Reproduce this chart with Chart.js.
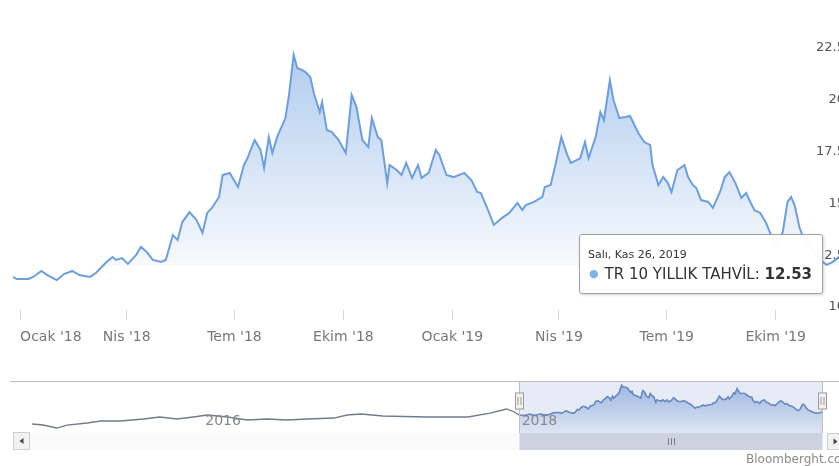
<!DOCTYPE html>
<html>
<head>
<meta charset="utf-8">
<script src="https://cdn.jsdelivr.net/npm/chart.js@4.4.1/dist/chart.umd.min.js"></script>
<style>
  html, body { margin: 0; padding: 0; background: #fff; overflow: hidden; }
  #wrap { position: relative; width: 839px; height: 466px; overflow: hidden; font-family: "DejaVu Sans", sans-serif; }
  #mainBox { position: absolute; left: 0; top: 0; width: 870px; height: 360px; }
  #navBox { position: absolute; left: 0; top: 370px; width: 870px; height: 96px; }
  #tip { position: absolute; display: none; background: rgba(255,255,255,0.96); border: 1px solid #a3a3a3; border-radius: 3px;
         box-shadow: 1px 1px 3px rgba(0,0,0,0.18); padding: 13px 10px 9px 8px; color: #333; white-space: nowrap; }
  #tip .t { font-size: 11px; line-height: 14px; }
  #tip .b { font-size: 15px; line-height: 20px; margin-top: 2px; }
  #tip .dot { color: #7cb5ec; font-size: 11px; margin: 0 6px 0 1px; vertical-align: 2px; }
  #credit { position: absolute; left: 746px; top: 452px; font-size: 12px; color: #8a8a8a; white-space: nowrap; }
</style>
</head>
<body>
<div id="wrap">
  <div id="mainBox"><canvas id="main"></canvas></div>
  <div id="navBox"><canvas id="nav"></canvas></div>
  <div id="tip"></div>
  <div id="credit">Bloomberght.com</div>
</div>
<script>
const SERIES = "TR 10 YILLIK TAHVİL";

// daily closes (main range)
const dates = [
  "2017-12-26","2017-12-29","2018-01-08","2018-01-12","2018-01-19","2018-01-24","2018-02-01","2018-02-07",
  "2018-02-14","2018-02-20","2018-03-01","2018-03-06","2018-03-15","2018-03-20","2018-03-23","2018-03-28",
  "2018-04-02","2018-04-09","2018-04-13","2018-04-18","2018-04-23","2018-04-30","2018-05-04","2018-05-10",
  "2018-05-14","2018-05-18","2018-05-24","2018-05-30","2018-06-04","2018-06-08","2018-06-12","2018-06-18",
  "2018-06-21","2018-06-27","2018-06-29","2018-07-04","2018-07-09","2018-07-12","2018-07-18","2018-07-23",
  "2018-07-26","2018-07-30","2018-08-02","2018-08-06","2018-08-13","2018-08-16","2018-08-20","2018-08-23",
  "2018-08-27","2018-08-30","2018-09-03","2018-09-06","2018-09-11","2018-09-13","2018-09-17","2018-09-21",
  "2018-09-27","2018-10-03","2018-10-08","2018-10-12","2018-10-17","2018-10-22","2018-10-25","2018-10-30",
  "2018-11-02","2018-11-07","2018-11-09","2018-11-15","2018-11-19","2018-11-23","2018-11-28","2018-12-03",
  "2018-12-06","2018-12-12","2018-12-18","2018-12-21","2018-12-27","2019-01-02","2019-01-11","2019-01-17",
  "2019-01-22","2019-01-25","2019-01-30","2019-02-05","2019-02-12","2019-02-18","2019-02-25","2019-03-01",
  "2019-03-04","2019-03-11","2019-03-18","2019-03-20","2019-03-25","2019-03-29","2019-04-03","2019-04-08",
  "2019-04-11","2019-04-16","2019-04-19","2019-04-23","2019-04-26","2019-05-02","2019-05-06","2019-05-09",
  "2019-05-14","2019-05-17","2019-05-22","2019-05-27","2019-05-31","2019-06-07","2019-06-12","2019-06-17",
  "2019-06-19","2019-06-24","2019-06-28","2019-07-02","2019-07-05","2019-07-10","2019-07-16","2019-07-19",
  "2019-07-23","2019-07-26","2019-07-30","2019-08-05","2019-08-09","2019-08-15","2019-08-19","2019-08-23",
  "2019-08-28","2019-09-02","2019-09-06","2019-09-10","2019-09-13","2019-09-18","2019-09-23","2019-09-27",
  "2019-10-02","2019-10-07","2019-10-11","2019-10-14","2019-10-17","2019-10-21","2019-10-25","2019-10-31",
  "2019-11-04","2019-11-08","2019-11-13","2019-11-18","2019-11-21","2019-11-26"
];
const yields = [
  11.45,11.35,11.35,11.45,11.74,11.54,11.30,11.59,
  11.74,11.54,11.45,11.64,12.17,12.41,12.27,12.36,
  12.08,12.51,12.90,12.65,12.27,12.17,12.27,13.47,
  13.23,14.10,14.58,14.20,13.57,14.54,14.78,15.31,
  16.37,16.47,16.27,15.79,16.85,17.19,18.06,17.58,
  16.71,18.20,17.43,18.20,19.12,20.23,22.16,21.53,
  21.44,21.34,21.10,20.33,19.41,19.89,18.54,18.45,
  18.06,17.43,20.23,19.65,18.06,17.72,19.12,18.20,
  18.06,15.98,16.85,16.61,16.37,16.95,16.23,16.85,
  16.23,16.47,17.58,17.34,16.37,16.27,16.47,16.13,
  15.55,15.50,14.83,13.96,14.30,14.54,15.02,14.68,
  14.92,15.07,15.31,15.79,15.89,16.85,18.20,17.34,
  16.95,17.09,17.19,17.96,17.19,18.20,19.41,19.02,
  20.95,19.99,19.12,19.17,19.22,18.40,17.96,17.82,
  16.85,15.89,16.27,15.98,15.55,16.61,16.85,16.27,
  15.89,15.74,15.16,15.07,14.78,15.55,16.27,16.51,
  15.98,15.26,15.50,15.02,14.68,14.54,14.05,13.47,
  12.99,13.62,15.07,15.31,14.92,13.86,13.23,12.85,
  12.51,12.27,12.03,12.17,12.30,12.53
];

// older history only visible in the navigator
const navDates = [
  "2014-11-27","2014-12-22","2015-01-23","2015-02-16","2015-04-03","2015-05-04","2015-06-19","2015-08-11",
  "2015-09-18","2015-10-28","2015-12-04","2016-01-06","2016-02-22","2016-04-07","2016-05-23","2016-07-08",
  "2016-08-24","2016-10-24","2016-11-24","2016-12-26","2017-02-14","2017-05-25","2017-08-30","2017-10-20",
  "2017-11-27","2017-12-15"
];
const navYields = [
  8.22,7.86,6.79,7.86,8.58,9.30,9.30,10.01,
  10.73,10.01,10.73,11.45,10.73,9.66,10.01,9.66,
  10.01,10.37,11.45,11.81,11.09,10.73,10.73,12.16,
  13.60,12.52
];
const navStart = "2014-11-22";

const xTickDates = ["2018-01-01","2018-04-01","2018-07-01","2018-10-01","2019-01-01","2019-04-01","2019-07-01","2019-10-01"];
const xTickLabels = ["Ocak '18","Nis '18","Tem '18","Ekim '18","Ocak '19","Nis '19","Tem '19","Ekim '19"];
const yTicks = [10, 12.5, 15, 17.5, 20, 22.5];
const navTickDates = ["2016-01-01","2018-01-01"];
const navTickLabels = ["2016","2018"];

const dayNames = ["Pazar","Pazartesi","Salı","Çarşamba","Perşembe","Cuma","Cumartesi"];
const monthNames = ["Oca","Şub","Mar","Nis","May","Haz","Tem","Ağu","Eyl","Eki","Kas","Ara"];

const FONT = "DejaVu Sans";
const LINE = "#6b9fe0";

const t = s => Date.parse(s + "T00:00:00Z");
const mainPoints = dates.map((d, i) => ({ x: t(d), y: yields[i] }));
const navPoints = navDates.map((d, i) => ({ x: t(navDates[i]), y: navYields[i] })).concat(mainPoints);
const selStart = t(dates[0]);
const selEnd = t(dates[dates.length - 1]);

function fmtDate(ms) {
  const d = new Date(ms);
  return dayNames[d.getUTCDay()] + ", " + monthNames[d.getUTCMonth()] + " " + d.getUTCDate() + ", " + d.getUTCFullYear();
}

function renderTip({ chart, tooltip }) {
  const el = document.getElementById("tip");
  if (!tooltip.opacity || !tooltip.dataPoints || !tooltip.dataPoints.length) {
    el.style.display = "none";
    return;
  }
  const p = tooltip.dataPoints[0];
  el.innerHTML = '<div class="t">' + fmtDate(p.raw.x) + '</div>' +
    '<div class="b"><span class="dot">●</span>' + SERIES + ': <b>' + p.raw.y.toFixed(2) + '</b></div>';
  el.style.display = "block";
  el.style.left = (tooltip.caretX - el.offsetWidth - 19) + "px";
  el.style.top = (tooltip.caretY - 21) + "px";
}

function mainFill(c) {
  const { ctx, chartArea, scales } = c.chart;
  if (!chartArea) return "rgba(0,0,0,0)";
  const top = scales.y.getPixelForValue(22.5);
  const cut = scales.y.getPixelForValue(12);
  const g = ctx.createLinearGradient(0, top, 0, chartArea.bottom);
  const f = (cut - top) / (chartArea.bottom - top);
  g.addColorStop(0, "rgba(110,160,225,0.55)");
  g.addColorStop(f, "rgba(110,160,225,0.05)");
  g.addColorStop(Math.min(f + 0.002, 1), "rgba(110,160,225,0)");
  g.addColorStop(1, "rgba(110,160,225,0)");
  return g;
}

const mainChart = new Chart(document.getElementById("main"), {
  type: "line",
  data: {
    datasets: [{
      label: SERIES,
      data: mainPoints,
      borderColor: LINE,
      borderWidth: 2,
      pointRadius: 0,
      pointHoverRadius: 0,
      tension: 0,
      fill: "start",
      backgroundColor: mainFill,
    }],
  },
  options: {
    animation: false,
    responsive: true,
    maintainAspectRatio: false,
    layout: { padding: { top: 40, left: 13, right: 28, bottom: 14 } },
    plugins: {
      legend: { display: false },
      tooltip: { enabled: false, external: renderTip },
    },
    scales: {
      x: {
        type: "linear",
        min: selStart,
        max: selEnd,
        afterBuildTicks: s => { s.ticks = xTickDates.map(d => ({ value: t(d) })).concat([{ value: selEnd }]); },
        afterFit: s => { s.height = 36; },
        border: { display: false },
        grid: {
          drawOnChartArea: false,
          tickLength: 10,
          color: c => (c.index < xTickLabels.length ? "#d8d8d8" : "rgba(0,0,0,0)"),
        },
        ticks: {
          autoSkip: false,
          maxRotation: 0,
          align: "inner",
          padding: 9,
          color: "#777",
          font: { family: FONT, size: 14 },
          callback: (v, i) => (i < xTickLabels.length ? xTickLabels[i] : ""),
        },
      },
      y: {
        type: "linear",
        position: "right",
        min: 9.855,
        max: 22.886,
        afterBuildTicks: s => { s.ticks = yTicks.map(v => ({ value: v })); },
        afterFit: s => { s.width = 0; },
        border: { display: false },
        grid: { display: false },
        ticks: {
          mirror: true,
          padding: 3,
          z: 1,
          color: "#555",
          font: { family: FONT, size: 13 },
          callback: v => String(v),
        },
      },
    },
  },
});

// hover the last day, like the screenshot
const lastIdx = dates.length - 1;
const lastEl = mainChart.getDatasetMeta(0).data[lastIdx];
mainChart.tooltip.setActiveElements([{ datasetIndex: 0, index: lastIdx }], { x: lastEl.x, y: lastEl.y });
mainChart.update();

function navFill(c) {
  const { ctx, chartArea } = c.chart;
  if (!chartArea) return "rgba(0,0,0,0)";
  const g = ctx.createLinearGradient(0, chartArea.top, 0, chartArea.bottom);
  g.addColorStop(0, "rgba(85,135,210,0.55)");
  g.addColorStop(1, "rgba(85,135,210,0.06)");
  return g;
}

function drawButton(ctx, x, y, w, h, dir) {
  ctx.fillStyle = "#f2f2f2";
  ctx.fillRect(x, y, w, h);
  ctx.strokeStyle = "#cfcfcf";
  ctx.strokeRect(x + 0.5, y + 0.5, w - 1, h - 1);
  const cx = x + w / 2, cy = y + h / 2;
  ctx.fillStyle = "#444";
  ctx.beginPath();
  ctx.moveTo(cx - 2 * dir, cy - 3);
  ctx.lineTo(cx + 2 * dir, cy);
  ctx.lineTo(cx - 2 * dir, cy + 3);
  ctx.closePath();
  ctx.fill();
}

const navDecor = {
  id: "navDecor",
  afterDatasetsDraw(chart) {
    const { ctx, chartArea: a, scales: { x } } = chart;
    const x1 = x.getPixelForValue(selStart), x2 = x.getPixelForValue(selEnd);
    ctx.save();
    ctx.fillStyle = "rgba(102,133,194,0.16)";
    ctx.fillRect(x1, a.top, x2 - x1, a.bottom - a.top);
    ctx.restore();
  },
  afterDraw(chart) {
    const { ctx, chartArea: a, scales: { x }, width } = chart;
    const x1 = Math.round(x.getPixelForValue(selStart)) + 0.5;
    const x2 = Math.round(x.getPixelForValue(selEnd)) + 0.5;
    const sb = a.bottom, sh = 17;
    ctx.save();
    ctx.lineWidth = 1;
    ctx.strokeStyle = "#bdbdbd";
    ctx.beginPath();
    ctx.moveTo(10, a.top + 0.5); ctx.lineTo(width, a.top + 0.5);
    ctx.moveTo(x1, a.top); ctx.lineTo(x1, a.bottom);
    ctx.moveTo(x2, a.top); ctx.lineTo(x2, a.bottom);
    ctx.stroke();

    // scrollbar
    ctx.fillStyle = "#fbfbfb";
    ctx.fillRect(a.left, sb, a.right - a.left + 5, sh);
    ctx.fillStyle = "#cdd2e1";
    ctx.fillRect(x1, sb, x2 - x1, sh);
    const gx = Math.round((x1 + x2) / 2);
    ctx.strokeStyle = "#7d7d7d";
    ctx.beginPath();
    for (const dx of [-3, 0, 3]) {
      ctx.moveTo(gx + dx + 0.5, sb + 5); ctx.lineTo(gx + dx + 0.5, sb + 12);
    }
    ctx.stroke();
    drawButton(ctx, a.left - 17, sb - 1, 17, sh + 1, -1);
    drawButton(ctx, a.right + 5, sb, 17, sh, 1);

    // handles
    for (const hx of [x1, x2]) {
      ctx.fillStyle = "#f2f2f2";
      ctx.fillRect(hx - 4, a.top + 12, 8, 16);
      ctx.strokeStyle = "#999";
      ctx.strokeRect(hx - 4, a.top + 12, 8, 16);
      ctx.beginPath();
      ctx.moveTo(hx - 1.5, a.top + 16); ctx.lineTo(hx - 1.5, a.top + 24);
      ctx.moveTo(hx + 1.5, a.top + 16); ctx.lineTo(hx + 1.5, a.top + 24);
      ctx.stroke();
    }
    ctx.restore();
  },
};

new Chart(document.getElementById("nav"), {
  type: "line",
  data: {
    datasets: [
      {
        data: navPoints,
        borderColor: "#707b8f",
        borderWidth: 1.3,
        pointRadius: 0,
        tension: 0,
        fill: false,
        order: 1,
      },
      {
        data: mainPoints,
        borderColor: "#6a8fcb",
        borderWidth: 1.3,
        pointRadius: 0,
        tension: 0,
        fill: "start",
        backgroundColor: navFill,
        order: 0,
      },
    ],
  },
  options: {
    animation: false,
    responsive: true,
    maintainAspectRatio: false,
    events: [],
    layout: { padding: { top: 11, left: 30, right: 48, bottom: 33 } },
    plugins: { legend: { display: false }, tooltip: { enabled: false } },
    scales: {
      x: {
        type: "linear",
        min: t(navStart),
        max: selEnd,
        afterBuildTicks: s => { s.ticks = navTickDates.map(d => ({ value: t(d) })); },
        afterFit: s => { s.height = 0; },
        border: { display: false },
        grid: { display: false },
        ticks: {
          mirror: true,
          align: "start",
          padding: 3,
          z: 1,
          autoSkip: false,
          maxRotation: 0,
          color: "#888",
          font: { family: FONT, size: 14 },
          callback: (v, i) => navTickLabels[i],
        },
      },
      y: { display: false, min: 5.0, max: 23.63 },
    },
  },
  plugins: [navDecor],
});
</script>
</body>
</html>
